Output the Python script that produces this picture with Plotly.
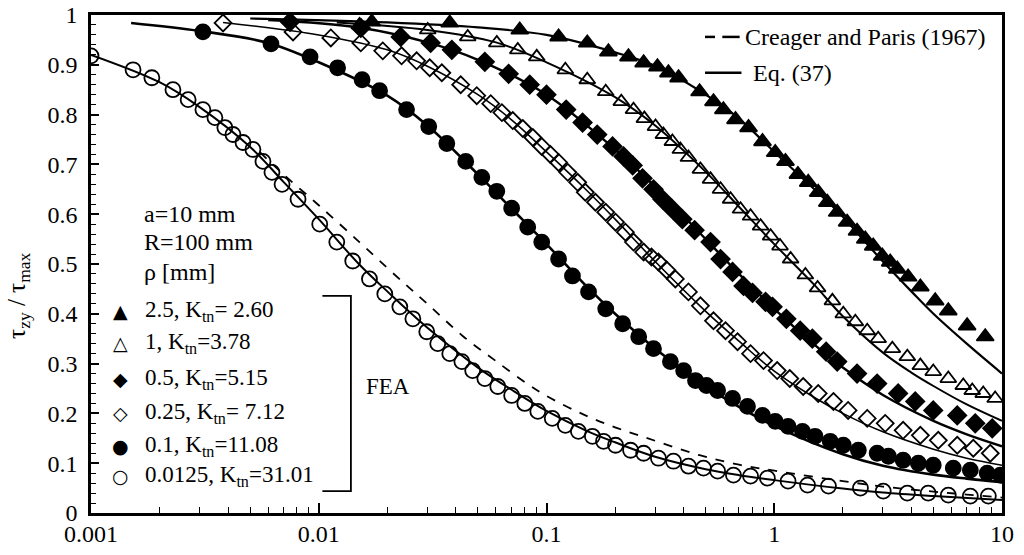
import plotly.graph_objects as go

# ---------------- FEA data (markers) ----------------
tri_f_x = [0.0171, 0.0376, 0.0763, 0.113, 0.151, 0.187, 0.229, 0.267, 0.307, 0.343, 0.380, 0.470, 0.541, 0.598,
           0.676, 0.771, 0.888, 1.01, 1.12, 1.27, 1.41, 1.56, 1.71, 1.89, 2.09, 2.31, 2.51, 2.72, 2.98, 3.23,
           3.47, 3.87, 4.38, 5.09, 5.81, 7.03, 8.44]
tri_f_y = [0.986, 0.984, 0.970, 0.956, 0.944, 0.926, 0.916, 0.904, 0.896, 0.884, 0.874, 0.846, 0.826, 0.810,
           0.790, 0.774, 0.746, 0.724, 0.706, 0.680, 0.664, 0.644, 0.624, 0.604, 0.584, 0.566, 0.550, 0.536, 0.516, 0.504,
           0.490, 0.474, 0.454, 0.426, 0.406, 0.376, 0.354]

tri_o_x = [0.0151, 0.0301, 0.0451, 0.0605, 0.0748, 0.0906, 0.121, 0.151, 0.182, 0.213, 0.241, 0.269, 0.301, 0.326,
           0.357, 0.387, 0.420, 0.474, 0.525, 0.581, 0.643, 0.711, 0.787, 0.871, 0.964, 1.06, 1.18, 1.37, 1.55,
           1.80, 2.01, 2.27, 2.56, 2.86, 3.30, 3.84, 4.38, 4.99, 5.81, 6.76, 7.40, 8.27, 9.33]
tri_o_y = [0.980, 0.970, 0.956, 0.944, 0.930, 0.916, 0.890, 0.870, 0.846, 0.826, 0.810, 0.792, 0.776, 0.760,
           0.746, 0.730, 0.714, 0.690, 0.670, 0.650, 0.630, 0.610, 0.596, 0.576, 0.556, 0.536, 0.510, 0.478, 0.452,
           0.426, 0.400, 0.384, 0.366, 0.350, 0.330, 0.314, 0.296, 0.284, 0.270, 0.256, 0.246, 0.240, 0.230]

dia_f_x = [0.00748, 0.0153, 0.0229, 0.0310, 0.0384, 0.0536, 0.0682, 0.0844, 0.100, 0.122, 0.144, 0.167, 0.195,
           0.218, 0.239, 0.264, 0.295, 0.323, 0.357, 0.395, 0.447, 0.525, 0.581, 0.656, 0.733, 0.803, 0.916, 0.983,
           1.13, 1.30, 1.47, 1.69, 1.89, 2.31, 2.83, 3.50, 4.16, 4.99, 6.36, 7.63, 9.06]
dia_f_y = [0.986, 0.974, 0.956, 0.944, 0.930, 0.906, 0.882, 0.860, 0.840, 0.810, 0.784, 0.760, 0.736,
           0.716, 0.698, 0.672, 0.650, 0.630, 0.610, 0.590, 0.568, 0.544, 0.510, 0.484, 0.456, 0.442, 0.424, 0.414,
           0.390, 0.366, 0.350, 0.324, 0.304, 0.280, 0.260, 0.240, 0.224, 0.206, 0.196, 0.180, 0.170]

dia_o_x = [0.0038, 0.00771, 0.0113, 0.0153, 0.0191, 0.0231, 0.0269, 0.0307, 0.0347, 0.0420, 0.0494, 0.0569,
           0.0637, 0.0711, 0.0787, 0.0871, 0.0953, 0.104, 0.113, 0.124, 0.137, 0.148, 0.164, 0.182, 0.201, 0.222,
           0.241, 0.267, 0.289, 0.310, 0.337, 0.368, 0.420, 0.474, 0.541, 0.611, 0.690, 0.787, 0.897, 1.03, 1.17,
           1.34, 1.56, 1.82, 2.11, 2.56, 3.07, 3.68, 4.38, 5.25, 6.36, 7.48, 8.88]
dia_o_y = [0.984, 0.966, 0.954, 0.944, 0.928, 0.918, 0.908, 0.894, 0.884, 0.860, 0.838, 0.822,
           0.804, 0.788, 0.772, 0.754, 0.736, 0.720, 0.704, 0.684, 0.664, 0.644, 0.624, 0.604, 0.584, 0.564,
           0.544, 0.524, 0.514, 0.504, 0.488, 0.470, 0.444, 0.416, 0.386, 0.366, 0.344, 0.320, 0.306, 0.286, 0.270,
           0.254, 0.240, 0.224, 0.206, 0.190, 0.180, 0.166, 0.156, 0.146, 0.136, 0.130, 0.120]

cir_f_x = [0.0031, 0.00617, 0.00916, 0.0121, 0.0155, 0.0185, 0.0243, 0.0304, 0.0365, 0.0442, 0.0520, 0.0605,
           0.0703, 0.0827, 0.0953, 0.113, 0.130, 0.153, 0.182, 0.216, 0.254, 0.295, 0.350, 0.400, 0.451, 0.504,
           0.564, 0.656, 0.763, 0.888, 1.01, 1.15, 1.33, 1.51, 1.76, 2.01, 2.34, 2.83, 3.17, 3.68, 4.29, 4.99,
           6.11, 7.26, 8.61, 9.83]
cir_f_y = [0.966, 0.942, 0.916, 0.894, 0.870, 0.848, 0.810, 0.776, 0.742, 0.706, 0.674, 0.646,
           0.612, 0.574, 0.544, 0.510, 0.476, 0.444, 0.410, 0.380, 0.354, 0.330, 0.304, 0.286, 0.266, 0.256,
           0.246, 0.230, 0.214, 0.196, 0.184, 0.174, 0.164, 0.154, 0.144, 0.136, 0.126, 0.120, 0.114, 0.106, 0.100, 0.096,
           0.090, 0.086, 0.080, 0.076]

cir_o_x = [0.001, 0.00153, 0.00185, 0.00229, 0.00267, 0.0031, 0.0035, 0.00387, 0.0042, 0.00465, 0.00514, 0.00569,
           0.00623, 0.0069, 0.00811, 0.0101, 0.0120, 0.0141, 0.0167, 0.0195, 0.0227, 0.0259, 0.0298, 0.0333, 0.0376,
           0.0425, 0.0474, 0.0536, 0.0611, 0.0703, 0.0803, 0.0916, 0.106, 0.121, 0.138, 0.159, 0.178, 0.201, 0.234,
           0.267, 0.310, 0.361, 0.420, 0.489, 0.564, 0.662, 0.787, 0.933, 1.15, 1.40, 1.73, 2.39, 3.01, 3.84, 4.74,
           5.81, 7.26, 8.71]
cir_o_y = [0.918, 0.890, 0.874, 0.850, 0.830, 0.810, 0.794, 0.774, 0.760, 0.744, 0.730, 0.706,
           0.684, 0.660, 0.630, 0.580, 0.544, 0.506, 0.470, 0.440, 0.414, 0.390, 0.364, 0.340, 0.320,
           0.304, 0.286, 0.270, 0.254, 0.236, 0.220, 0.204, 0.190, 0.176, 0.164, 0.154, 0.144, 0.136, 0.126,
           0.120, 0.110, 0.104, 0.094, 0.090, 0.084, 0.076, 0.074, 0.070, 0.064, 0.056, 0.054, 0.050, 0.044, 0.040, 0.040,
           0.036, 0.034, 0.034]

# ---------------- Eq. (37) curves ----------------
eq_tri_f_x = [0.005, 0.02, 0.05, 0.1, 0.2, 0.3, 0.5, 0.7, 1, 1.5, 2, 2.5, 3, 4, 5, 7, 10]
eq_tri_f_y = [0.993, 0.985, 0.975, 0.960, 0.925, 0.898, 0.840, 0.792, 0.725, 0.650, 0.595, 0.545, 0.505, 0.445,
              0.400, 0.340, 0.280]

eq_tri_o_x = [0.012, 0.03, 0.06, 0.1, 0.2, 0.3, 0.5, 0.7, 1, 1.5, 2, 3, 4, 5, 7, 10]
eq_tri_o_y = [0.985, 0.970, 0.945, 0.905, 0.835, 0.778, 0.685, 0.615, 0.540, 0.458, 0.395, 0.322, 0.282, 0.255,
              0.218, 0.185]

eq_dia_f_x = [0.006, 0.015, 0.03, 0.05, 0.1, 0.2, 0.3, 0.5, 0.7, 1, 1.5, 2, 3, 5, 7, 10]
eq_dia_f_y = [0.990, 0.975, 0.945, 0.910, 0.840, 0.730, 0.655, 0.550, 0.480, 0.410, 0.338, 0.292, 0.237, 0.185,
              0.158, 0.134]

eq_dia_o_x = [0.0038, 0.01, 0.02, 0.03, 0.05, 0.07, 0.1, 0.15, 0.2, 0.3, 0.5, 0.7, 1, 1.5, 2, 3, 5, 7, 10]
eq_dia_o_y = [0.985, 0.960, 0.930, 0.897, 0.840, 0.790, 0.725, 0.648, 0.590, 0.505, 0.405, 0.345, 0.285, 0.232, 0.200,
              0.163, 0.128, 0.110, 0.096]

eq_cir_f_x = [0.0015, 0.003, 0.006, 0.01, 0.02, 0.03, 0.05, 0.07, 0.1, 0.15, 0.2, 0.3, 0.5, 0.7, 1, 2, 3, 5, 7, 10]
eq_cir_f_y = [0.984, 0.968, 0.944, 0.905, 0.838, 0.778, 0.680, 0.612, 0.540, 0.455, 0.400, 0.330, 0.255, 0.213,
              0.175, 0.118, 0.095, 0.077, 0.069, 0.062]

eq_cir_o_x = [0.001, 0.002, 0.003, 0.005, 0.007, 0.01, 0.015, 0.02, 0.03, 0.05, 0.07, 0.1, 0.15, 0.2, 0.3, 0.5,
              0.7, 1, 2, 3, 5, 10]
eq_cir_o_y = [0.920, 0.865, 0.815, 0.735, 0.665, 0.590, 0.500, 0.445, 0.372, 0.292, 0.248, 0.205, 0.165, 0.142,
              0.113, 0.088, 0.076, 0.066, 0.049, 0.041, 0.034, 0.026]

# ---------------- Creager and Paris (1967) ----------------
cp_x = [0.0055, 0.007, 0.01, 0.015, 0.02, 0.025, 0.03, 0.043, 0.06, 0.085, 0.1, 0.145, 0.2, 0.27, 0.47, 0.7, 1,
        2, 3, 5, 7, 10]
cp_y = [0.725, 0.680, 0.618, 0.545, 0.492, 0.452, 0.420, 0.355, 0.305, 0.255, 0.235, 0.198, 0.172, 0.152, 0.116,
        0.097, 0.085, 0.064, 0.053, 0.043, 0.037, 0.031]

legend_labels = ["2.5, K<sub>tn</sub>= 2.60", "1, K<sub>tn</sub>=3.78", "0.5, K<sub>tn</sub>=5.15",
                 "0.25, K<sub>tn</sub>= 7.12", "0.1, K<sub>tn</sub>=11.08", "0.0125, K<sub>tn</sub>=31.01"]
legend_glyphs = ["▲", "△", "◆", "◇", "●", "○"]

x_tick_vals = [0.001, 0.01, 0.1, 1, 10]
x_tick_text = ["0.001", "0.01", "0.1", "1", "10"]
x_minor_vals = [m * 10.0 ** e for e in range(-3, 1) for m in range(2, 10)]

SERIF = "Liberation Serif, Times New Roman, serif"

fig = go.Figure()

# Curves
eq_sets = [(eq_tri_f_x, eq_tri_f_y, 2.2), (eq_tri_o_x, eq_tri_o_y, 2.0), (eq_dia_f_x, eq_dia_f_y, 2.4),
           (eq_dia_o_x, eq_dia_o_y, 1.6), (eq_cir_f_x, eq_cir_f_y, 2.6), (eq_cir_o_x, eq_cir_o_y, 2.0)]
for xs, ys, w in eq_sets:
    fig.add_trace(go.Scatter(x=xs, y=ys, mode="lines", line=dict(color="black", width=w, shape="spline"),
                             showlegend=False, hoverinfo="skip"))
fig.add_trace(go.Scatter(x=cp_x, y=cp_y, mode="lines",
                         line=dict(color="black", width=1.8, dash="dash", shape="spline"),
                         showlegend=False, hoverinfo="skip"))

# Markers
mk_sets = [(tri_f_x, tri_f_y, "triangle-up", 15), (tri_o_x, tri_o_y, "triangle-up-open", 14),
           (dia_f_x, dia_f_y, "diamond", 14), (dia_o_x, dia_o_y, "diamond-open", 13),
           (cir_f_x, cir_f_y, "circle", 15), (cir_o_x, cir_o_y, "circle-open", 15)]
for xs, ys, sym, sz in mk_sets:
    fig.add_trace(go.Scatter(x=xs, y=ys, mode="markers",
                             marker=dict(symbol=sym, size=sz, color="black", line=dict(color="black", width=1.8)),
                             showlegend=False))

ann = []
def txt(x, y, s, size=24, xanchor="left"):
    ann.append(dict(x=x, y=y, xref="paper", yref="paper", text=s, showarrow=False, xanchor=xanchor,
                    yanchor="middle", font=dict(family=SERIF, size=size, color="black")))

txt(0.056, 0.600, "a=10 mm", 24)
txt(0.056, 0.544, "R=100 mm", 24)
txt(0.056, 0.484, "ρ [mm]", 24)
leg_y = [0.406, 0.342, 0.270, 0.200, 0.134, 0.074]
for gy, g, lab in zip(leg_y, legend_glyphs, legend_labels):
    ann.append(dict(x=0.032, y=gy, xref="paper", yref="paper", text=g, showarrow=False, xanchor="center",
                    yanchor="middle", font=dict(family="DejaVu Sans", size=19, color="black")))
    txt(0.057, gy, lab, 23)
txt(0.300, 0.254, "FEA", 23)
txt(0.716, 0.956, "Creager and Paris (1967)", 24)
txt(0.724, 0.884, "Eq. (37)", 24)
ann.append(dict(x=-0.079, y=0.436, xref="paper", yref="paper", text="τ<sub>zy</sub> / τ<sub>max</sub>",
                showarrow=False, textangle=-90, xanchor="center", yanchor="middle",
                font=dict(family=SERIF, size=25, color="black")))

shapes = [
    dict(type="path", xref="paper", yref="paper", path="M 0.254 0.436 L 0.2853 0.436 L 0.2853 0.044 L 0.254 0.044",
         line=dict(color="black", width=1.8)),
    dict(type="line", xref="paper", yref="paper", x0=0.674, x1=0.685, y0=0.956, y1=0.956,
         line=dict(color="black", width=2.5)),
    dict(type="line", xref="paper", yref="paper", x0=0.693, x1=0.712, y0=0.956, y1=0.956,
         line=dict(color="black", width=2.5)),
    dict(type="line", xref="paper", yref="paper", x0=0.674, x1=0.714, y0=0.884, y1=0.884,
         line=dict(color="black", width=2.5)),
]

fig.update_layout(
    width=1024, height=555,
    margin=dict(l=91, r=22, t=15, b=42, autoexpand=False),
    paper_bgcolor="white", plot_bgcolor="white",
    annotations=ann, shapes=shapes, showlegend=False,
    xaxis=dict(type="log", range=[-3, 1], tickvals=x_tick_vals, ticktext=x_tick_text, automargin=False,
               ticks="inside", ticklen=10, tickwidth=1.6, tickcolor="black", ticklabelstandoff=-3,
               minor=dict(tickmode="array", tickvals=x_minor_vals, ticks="inside", ticklen=6, tickwidth=1.4,
                          tickcolor="black", showgrid=False),
               showline=True, linecolor="black", linewidth=2.5, mirror=True, showgrid=False, zeroline=False,
               tickfont=dict(family=SERIF, size=24, color="black")),
    yaxis=dict(range=[0, 1], dtick=0.1, ticks="inside", ticklen=8, tickwidth=1.6, tickcolor="black",
               ticklabelstandoff=6, automargin=False,
               minor=dict(dtick=0.02, ticks="inside", ticklen=5, tickwidth=1.3, tickcolor="black", showgrid=False),
               showline=True, linecolor="black", linewidth=2.5, mirror=True, showgrid=False, zeroline=False,
               tickfont=dict(family=SERIF, size=24, color="black")),
)

fig.write_html("out.html", config={"displayModeBar": False},
               post_script="document.body.style.margin='0px';document.body.style.overflow='hidden';")
